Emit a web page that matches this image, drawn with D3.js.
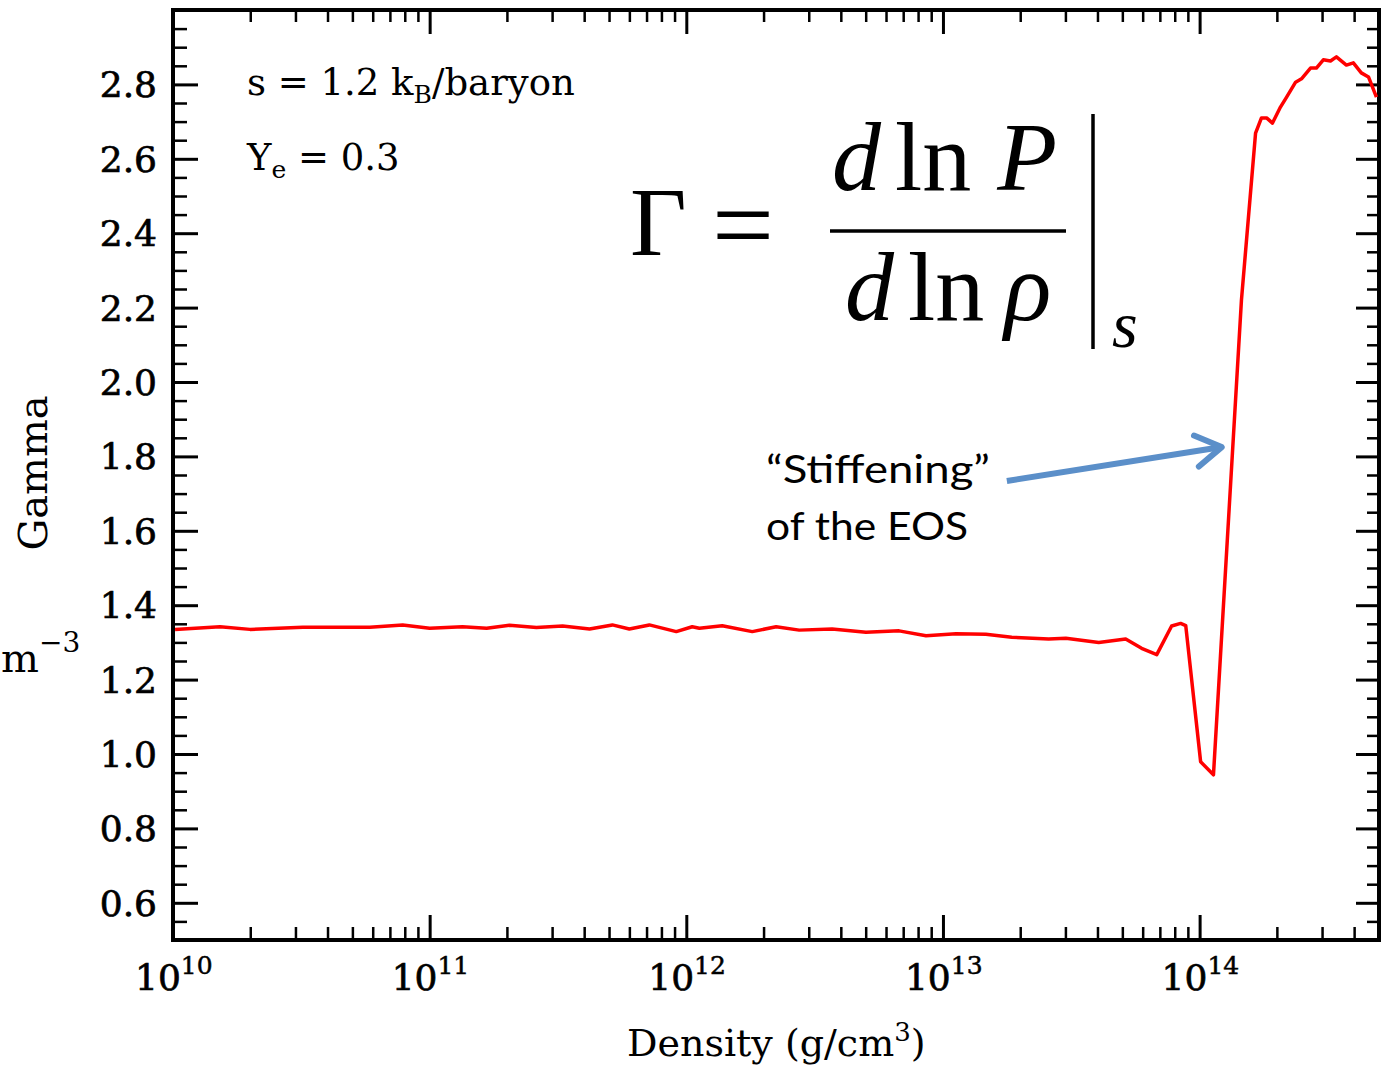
<!DOCTYPE html>
<html>
<head>
<meta charset="utf-8">
<title>Gamma vs density</title>
<script src="https://d3js.org/d3.v7.min.js"></script>
<style>
  body { margin: 0; background: #fff; }
  svg { display: block; }
</style>
</head>
<body>
<svg id="chart" width="1388" height="1069"></svg>
<script>
// log10 of density (g/cm^3) and Gamma
const logDensity = [10.008, 10.183, 10.300, 10.506, 10.767, 10.895, 11.000, 11.128, 11.222, 11.311,
  11.416, 11.518, 11.623, 11.712, 11.778, 11.856, 11.961, 12.023, 12.051, 12.140,
  12.257, 12.350, 12.440, 12.568, 12.700, 12.829, 12.934, 13.051, 13.167, 13.268,
  13.412, 13.479, 13.607, 13.712, 13.774, 13.833, 13.891, 13.926, 13.946, 14.004,
  14.054, 14.163, 14.218, 14.241, 14.261, 14.284, 14.315, 14.339, 14.374, 14.397,
  14.432, 14.455, 14.482, 14.510, 14.533, 14.572, 14.599, 14.630, 14.658, 14.689];
const gamma = [1.335, 1.342, 1.335, 1.341, 1.341, 1.347, 1.338, 1.342, 1.338, 1.346,
  1.340, 1.344, 1.336, 1.347, 1.336, 1.347, 1.329, 1.342, 1.338, 1.345,
  1.329, 1.342, 1.333, 1.336, 1.327, 1.331, 1.318, 1.323, 1.322, 1.314,
  1.309, 1.311, 1.300, 1.309, 1.284, 1.267, 1.344, 1.351, 1.345, 0.979,
  0.944, 2.220, 2.669, 2.710, 2.710, 2.696, 2.739, 2.766, 2.806, 2.815,
  2.844, 2.844, 2.866, 2.863, 2.874, 2.852, 2.858, 2.831, 2.820, 2.766];

const xMajor = [1e10, 1e11, 1e12, 1e13, 1e14];
const xMajorExp = ["10", "11", "12", "13", "14"];
const yMajor = [0.6, 0.8, 1.0, 1.2, 1.4, 1.6, 1.8, 2.0, 2.2, 2.4, 2.6, 2.8];

const svg = d3.select("#chart");
const mLeft = 173, mRight = 1379, mTop = 10, mBottom = 940;

const x = d3.scaleLog([1e10, 5e14], [mLeft, mRight]);
const y = d3.scaleLinear([0.5, 3.0], [mBottom, mTop]);

// minor ticks
const xMinor = [];
for (let e = 10; e <= 14; e++) for (let m = 2; m <= 9; m++) {
  const v = m * Math.pow(10, e);
  if (v < 5e14) xMinor.push(v);
}
const yMinor = d3.range(0.5, 3.0001, 0.05).map(v => +v.toFixed(2))
  .filter(v => !yMajor.some(m => Math.abs(m - v) < 1e-6));

function axisStyle(g, w) {
  g.select(".domain").remove();
  g.selectAll("line").attr("stroke", "#000").attr("stroke-width", w);
}

svg.append("g").attr("transform", `translate(0,${mBottom})`)
  .call(d3.axisBottom(x).tickValues(xMajor).tickSize(-25).tickFormat(""))
  .call(g => axisStyle(g, 3));
svg.append("g").attr("transform", `translate(0,${mBottom})`)
  .call(d3.axisBottom(x).tickValues(xMinor).tickSize(-13).tickFormat(""))
  .call(g => axisStyle(g, 2.5));
svg.append("g").attr("transform", `translate(0,${mTop})`)
  .call(d3.axisTop(x).tickValues(xMajor).tickSize(-24).tickFormat(""))
  .call(g => axisStyle(g, 3));
svg.append("g").attr("transform", `translate(0,${mTop})`)
  .call(d3.axisTop(x).tickValues(xMinor).tickSize(-12).tickFormat(""))
  .call(g => axisStyle(g, 2.5));
svg.append("g").attr("transform", `translate(${mLeft},0)`)
  .call(d3.axisLeft(y).tickValues(yMajor).tickSize(-25).tickFormat(""))
  .call(g => axisStyle(g, 3));
svg.append("g").attr("transform", `translate(${mLeft},0)`)
  .call(d3.axisLeft(y).tickValues(yMinor).tickSize(-14).tickFormat(""))
  .call(g => axisStyle(g, 2.5));
svg.append("g").attr("transform", `translate(${mRight},0)`)
  .call(d3.axisRight(y).tickValues(yMajor).tickSize(-23).tickFormat(""))
  .call(g => axisStyle(g, 3));
svg.append("g").attr("transform", `translate(${mRight},0)`)
  .call(d3.axisRight(y).tickValues(yMinor).tickSize(-12).tickFormat(""))
  .call(g => axisStyle(g, 2.5));

svg.append("rect")
  .attr("x", mLeft).attr("y", mTop)
  .attr("width", mRight - mLeft).attr("height", mBottom - mTop)
  .attr("fill", "none").attr("stroke", "#000").attr("stroke-width", 4);

// tick labels
const serif = "'DejaVu Serif', serif";
svg.append("g").selectAll("text").data(yMajor).join("text")
  .attr("x", 157).attr("y", d => y(d) + 13)
  .attr("text-anchor", "end")
  .attr("font-family", serif).attr("font-size", 36)
  .attr("stroke", "#000").attr("stroke-width", 0.7)
  .text(d => d.toFixed(1));

const xl = svg.append("g").selectAll("text").data(xMajor).join("text")
  .attr("x", d => x(d) - 38).attr("y", 990)
  .attr("font-family", serif).attr("font-size", 36)
  .attr("stroke", "#000").attr("stroke-width", 0.7);
xl.append("tspan").text("10");
xl.append("tspan").attr("dy", -16).attr("font-size", 25).attr("stroke-width", 0.5)
  .text((d, i) => xMajorExp[i]);

// axis titles
svg.append("text")
  .attr("transform", "translate(47,473) rotate(-90)")
  .attr("text-anchor", "middle")
  .attr("font-family", serif).attr("font-size", 40)
  .attr("textLength", 155).attr("lengthAdjust", "spacingAndGlyphs")
  .text("Gamma");

const dl = svg.append("text")
  .attr("x", 627).attr("y", 1056)
  .attr("font-family", serif).attr("font-size", 38);
dl.append("tspan").text("Density (g/cm");
dl.append("tspan").attr("dy", -15).attr("font-size", 26).text("3");
dl.append("tspan").attr("dy", 15).text(")");

// left-edge remnant of another label
const rem = svg.append("text")
  .attr("x", 1).attr("y", 672)
  .attr("font-family", serif).attr("font-size", 40);
rem.append("tspan").text("m");
rem.append("tspan").attr("dy", -20).attr("font-size", 28).text("−3");

// info text
const t1 = svg.append("text").attr("x", 247).attr("y", 95)
  .attr("font-family", serif).attr("font-size", 37);
t1.append("tspan").text("s = 1.2 k");
t1.append("tspan").attr("dy", 8).attr("font-size", 25).text("B");
t1.append("tspan").attr("dy", -8).text("/baryon");

const t2 = svg.append("text").attr("x", 247).attr("y", 170)
  .attr("font-family", serif).attr("font-size", 37);
t2.append("tspan").text("Y");
t2.append("tspan").attr("dy", 8).attr("font-size", 25).text("e");
t2.append("tspan").attr("dy", -8).text(" = 0.3");

// formula
const ms = "'Liberation Serif', 'Times New Roman', serif";
const f = svg.append("g").attr("font-family", ms).attr("fill", "#000");
f.append("text").attr("x", 630).attr("y", 255).attr("font-size", 98).text("Γ");
f.append("text").attr("x", 712).attr("y", 262).attr("font-size", 110).text("=");
const num = f.append("text").attr("x", 832).attr("y", 190).attr("font-size", 98);
num.append("tspan").attr("font-style", "italic").text("d");
num.append("tspan").attr("dx", 14).text("ln");
num.append("tspan").attr("dx", 26).attr("font-style", "italic").text("P");
const den = f.append("text").attr("x", 845).attr("y", 320).attr("font-size", 98);
den.append("tspan").attr("font-style", "italic").text("d");
den.append("tspan").attr("dx", 14).text("ln");
den.append("tspan").attr("dx", 20).attr("font-style", "italic").text("ρ");
f.append("line").attr("x1", 830).attr("x2", 1066).attr("y1", 231).attr("y2", 231)
  .attr("stroke", "#000").attr("stroke-width", 3.5);
f.append("line").attr("x1", 1093).attr("x2", 1093).attr("y1", 114).attr("y2", 349)
  .attr("stroke", "#000").attr("stroke-width", 3.5);
f.append("text").attr("x", 1112).attr("y", 347).attr("font-size", 66)
  .attr("font-style", "italic").text("s");

// the curve
const pts = logDensity.map((l, i) => [Math.pow(10, l), gamma[i]]);
svg.append("path")
  .datum(pts)
  .attr("fill", "none").attr("stroke", "#ff0000").attr("stroke-width", 3.5)
  .attr("stroke-linejoin", "round")
  .attr("d", d3.line().x(d => x(d[0])).y(d => y(d[1])));

// annotation
const ann = svg.append("g").attr("font-family", "Lato, 'Open Sans', sans-serif")
  .attr("font-size", 38).attr("fill", "#000");
ann.append("text").attr("x", 766).attr("y", 483)
  .attr("textLength", 224).attr("lengthAdjust", "spacingAndGlyphs").text("“Stiffening”");
ann.append("text").attr("x", 766).attr("y", 540)
  .attr("textLength", 202).attr("lengthAdjust", "spacingAndGlyphs").text("of the EOS");

const tail = [x(Math.pow(10, 13.249)), y(1.734)];
const tip = [x(Math.pow(10, 14.086)), y(1.825)];
const ang = Math.atan2(tip[1] - tail[1], tip[0] - tail[0]);
const hl = 30, ha = 0.55;
const arrowCol = "#5b8fc9";
svg.append("line")
  .attr("x1", tail[0]).attr("y1", tail[1])
  .attr("x2", tip[0] - 3 * Math.cos(ang)).attr("y2", tip[1] - 3 * Math.sin(ang))
  .attr("stroke", arrowCol).attr("stroke-width", 6);
svg.append("path")
  .attr("d", d3.line()([
    [tip[0] - hl * Math.cos(ang - ha), tip[1] - hl * Math.sin(ang - ha)],
    tip,
    [tip[0] - hl * Math.cos(ang + ha), tip[1] - hl * Math.sin(ang + ha)]
  ]))
  .attr("fill", "none").attr("stroke", arrowCol).attr("stroke-width", 6)
  .attr("stroke-linecap", "round").attr("stroke-linejoin", "round");
</script>
</body>
</html>
